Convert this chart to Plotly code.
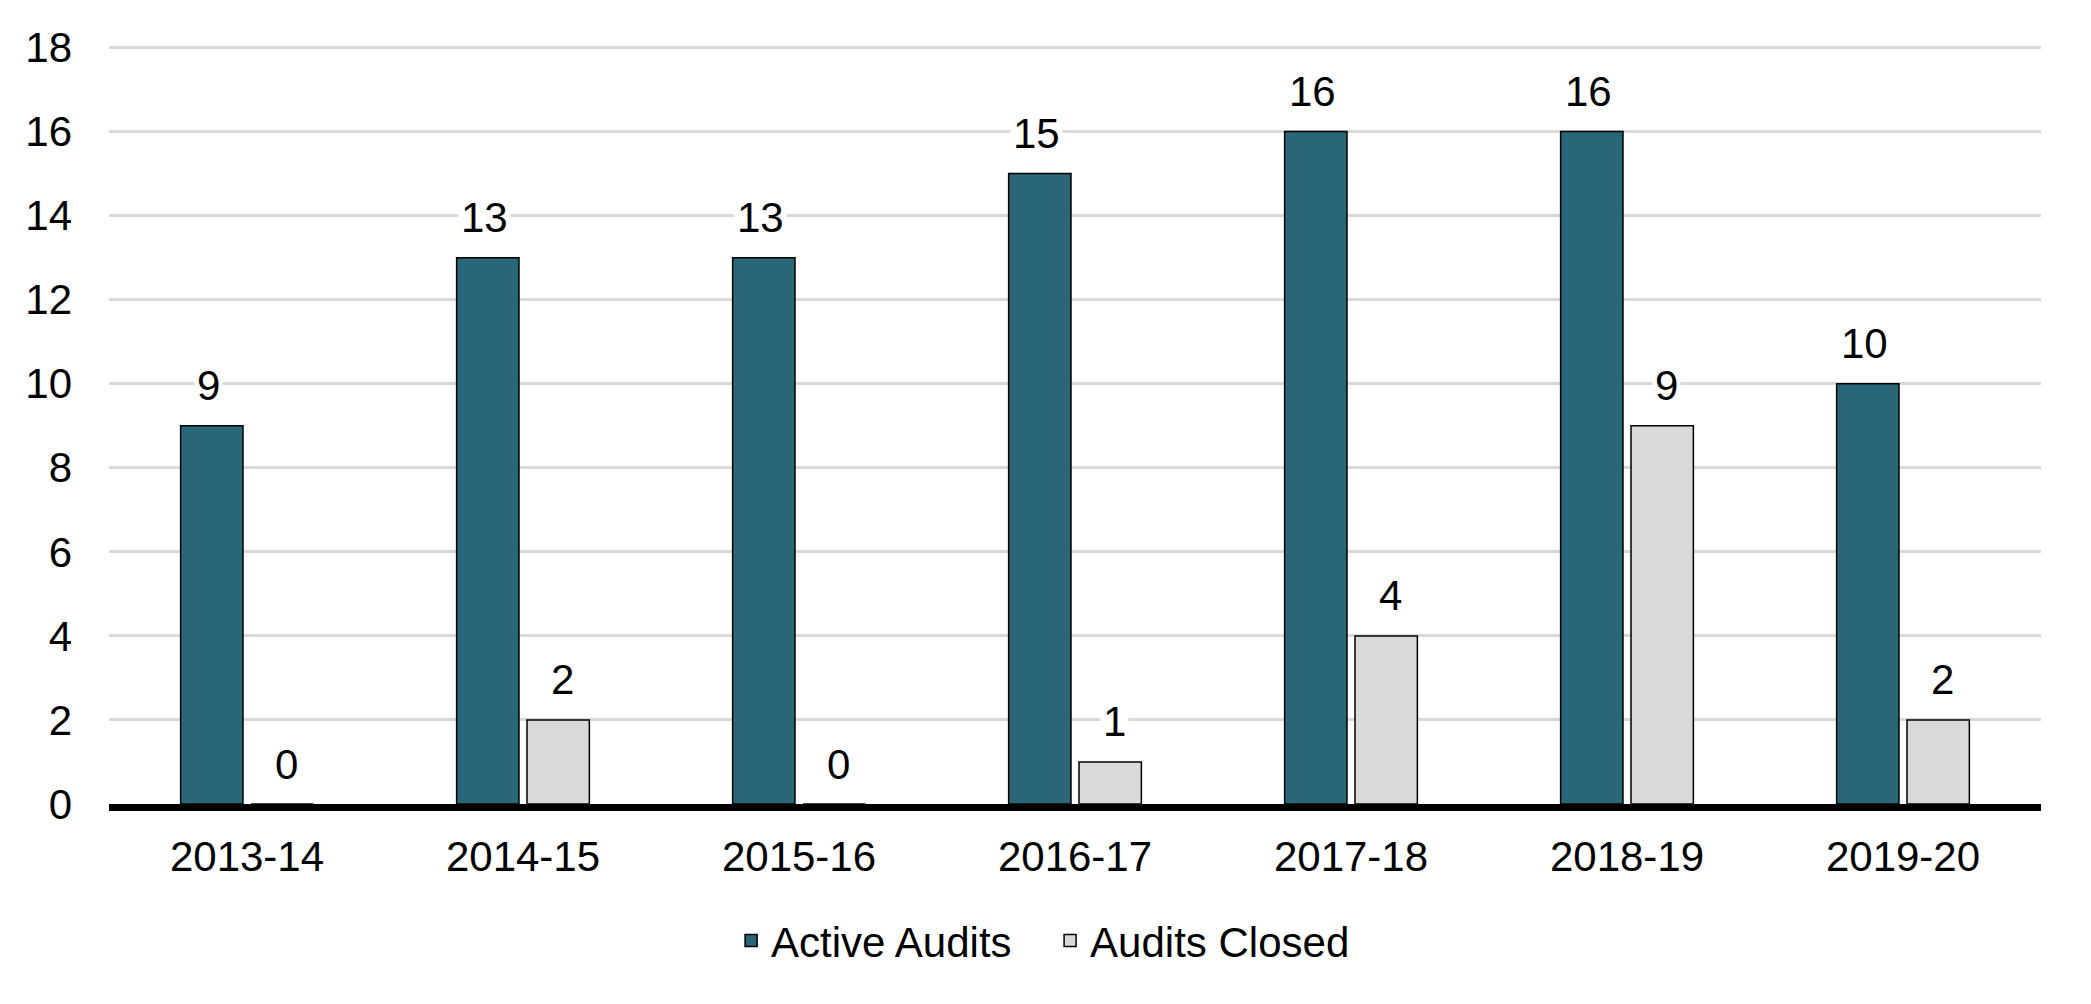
import plotly.graph_objects as go

categories = ["2013-14", "2014-15", "2015-16", "2016-17", "2017-18", "2018-19", "2019-20"]
active_audits = [9, 13, 13, 15, 16, 16, 10]
audits_closed = [0, 2, 0, 1, 4, 9, 2]
y_ticks = [0, 2, 4, 6, 8, 10, 12, 14, 16, 18]

FONT = "Liberation Sans, Arial, sans-serif"
TEAL = "#296678"
LIGHT = "#d9d9d9"
FS = 42

fig = go.Figure()
fig.add_trace(go.Bar(
    name="Active Audits", x=categories, y=active_audits,
    marker=dict(color=TEAL, line=dict(color="black", width=1.5)),
))
fig.add_trace(go.Bar(
    name="Audits Closed", x=categories, y=audits_closed,
    marker=dict(color=LIGHT, line=dict(color="black", width=1.5)),
))

annotations = []
for series, shift in ((active_audits, -39), (audits_closed, 39)):
    for c, v in zip(categories, series):
        annotations.append(dict(
            x=c, y=v, xref="x", yref="y", text=str(v), showarrow=False,
            xshift=shift, yshift=40, yanchor="middle", xanchor="center",
            bgcolor="white", borderpad=2,
            font=dict(family=FONT, size=FS, color="black"),
        ))

fig.update_layout(
    width=2091, height=1004,
    margin=dict(l=109, r=50, t=45, b=200),
    paper_bgcolor="white", plot_bgcolor="white",
    barmode="group", bargap=0.49, bargroupgap=0.114,
    font=dict(family=FONT, size=FS, color="black"),
    legend=dict(orientation="h", x=0.322, xanchor="left", y=-0.18, yanchor="middle",
                font=dict(family=FONT, size=FS, color="black"), itemwidth=30,
                entrywidth=274, entrywidthmode="pixels"),
    annotations=annotations,
    showlegend=True,
)
fig.update_xaxes(
    showline=True, linecolor="black", linewidth=7, showgrid=False,
    ticks="", ticklabelstandoff=10,
    tickfont=dict(family=FONT, size=FS, color="black"),
)
fig.update_yaxes(
    range=[0, 18.06], tickvals=y_ticks, showgrid=True, gridcolor=LIGHT, gridwidth=2.5,
    zeroline=False, showline=False, ticks="", ticklabelstandoff=36,
    tickfont=dict(family=FONT, size=FS, color="black"),
)

fig.write_html("out.html", config={"displayModeBar": False},
               post_script="document.body.style.margin='0';")
